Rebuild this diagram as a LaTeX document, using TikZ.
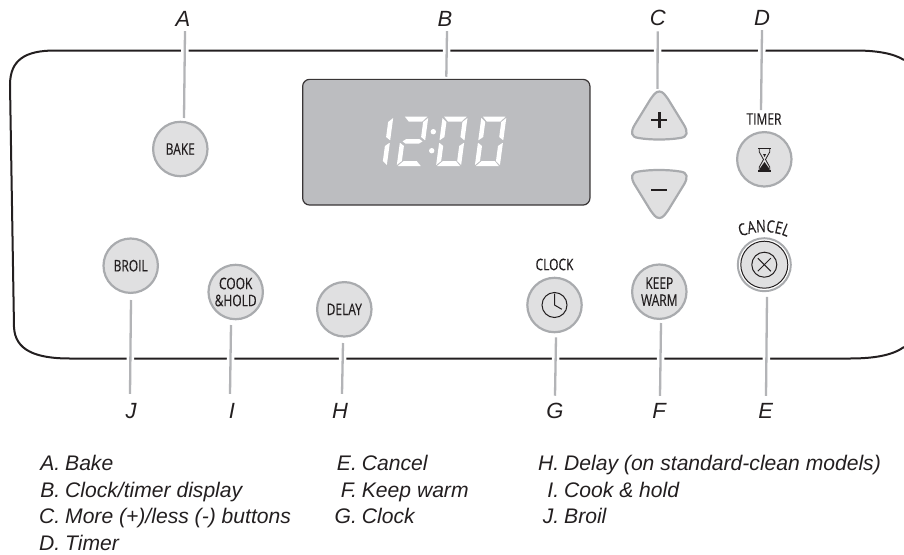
\documentclass[tikz,border=0pt]{standalone}
\usepackage{fontspec}
\setmainfont{Liberation Sans}
\newfontfamily\btnfont[FakeStretch=0.75,FakeBold=0.25]{Open Sans}
\usetikzlibrary{decorations.text}
\definecolor{ink}{HTML}{231F20}
\definecolor{btnfill}{HTML}{E0E0E1}
\definecolor{btnring}{HTML}{A9ABAE}
\definecolor{leadgray}{HTML}{B3B4B7}
\definecolor{dispfill}{HTML}{BCBDC0}
\newcommand{\segA}{(1.5,49.3) -- (24,49.3) -- (19.5,44.5) -- (6,44.5) -- cycle}
\newcommand{\segB}{(25,48) -- (20.5,44) -- (20.5,29) -- (24.5,26) -- (25,26) -- cycle}
\newcommand{\segC}{(25,23) -- (24.5,23) -- (20.5,20) -- (20.5,5) -- (25,1) -- cycle}
\newcommand{\segD}{(1,0) -- (24,0) -- (19.5,4.8) -- (6,4.8) -- cycle}
\newcommand{\segE}{(0,23) -- (0.5,23) -- (4.5,20) -- (4.5,5) -- (0,1) -- cycle}
\newcommand{\segF}{(0,48) -- (4.5,44) -- (4.5,29) -- (0.5,26) -- (0,26) -- cycle}
\newcommand{\segG}{(2.5,24.6) -- (6,27) -- (19,27) -- (22.5,24.6) -- (19,22.3) -- (6,22.3) -- cycle}
\newcommand{\triPath}{(659.3,91.5) .. controls (663,91.5) and (665,95) .. (668,99) -- (684,125)
  .. controls (688,132) and (688,137) .. (680,138) .. controls (668,140) and (650,140) .. (638.6,138)
  .. controls (630.6,137) and (630.6,132) .. (634.6,125) -- (650.6,99) .. controls (653.6,95) and (655.6,91.5) .. (659.3,91.5) -- cycle}
\newcommand{\leg}[2]{\llap{#1\hspace{5pt}}#2}
\tikzset{
  panel/.style={draw=ink,line width=2pt},
  leader/.style={draw=leadgray,line width=2.3pt,preaction={draw=white,line width=7.5pt}},
  btn/.style={circle,draw=btnring,fill=btnfill,line width=2.2pt,minimum size=54.4pt,inner sep=0pt,
     font=\btnfont\fontsize{16}{17}\selectfont,text=ink,align=center},
  captxt/.style={inner sep=0pt,font=\btnfont\fontsize{16}{17}\selectfont,text=ink},
  letter/.style={inner sep=0pt,anchor=base,text=ink,font=\fontsize{22}{24}\selectfont\itshape},
  legendtxt/.style={inner sep=0pt,anchor=base west,text=ink,font=\fontsize{21.1}{24}\selectfont\itshape},
  tri/.style={draw=btnring,fill=btnfill,line width=2.2pt,line join=round},
  icon/.style={draw=ink,line width=1pt},
  seg/.style={fill=white,draw=none},
}
\begin{document}
\begin{tikzpicture}[x=1pt,y=-1pt]
\useasboundingbox (0,0) rectangle (904,554);
% panel
\draw[panel] (904,60) .. controls (893,53) and (875,50.5) .. (855,50.5) -- (55,50.5)
  .. controls (25,50.5) and (10,60) .. (10,85) -- (14,327)
  .. controls (15,350) and (35,358.5) .. (70,358.5) -- (850,358.5)
  .. controls (875,358.5) and (893,355) .. (904,347);
% display
\node[draw=ink!90,fill=dispfill,line width=1.2pt,rounded corners=7pt,minimum width=287.3pt,minimum height=125.7pt,inner sep=0pt] (display) at (446.3,142.2) {};
\foreach \ox/\segs in {361.7/{\segB,\segC},396.7/{\segA,\segB,\segG,\segE,\segD},436/{\segA,\segB,\segC,\segD,\segE,\segF},474.8/{\segA,\segB,\segC,\segD,\segE,\segF}}{
  \begin{scope}[shift={(\ox,166)},x=1pt,y=1pt,xslant=0.135]
    \foreach \s in \segs { \fill[seg] \s; }
  \end{scope}
}
\fill[white] (433.3,131.7) circle (2.7pt) (431.7,150.7) circle (2.7pt);
% buttons
\node[btn] (bake) at (180.3,149) {BAKE};
\node[btn] (broil) at (130.7,265.7) {BROIL};
\node[btn] (cook) at (235.7,292) {COOK\\[0pt]\&HOLD};
\node[btn] (delay) at (344.3,309.3) {DELAY};
\node[btn] (clockb) at (554.5,305) {};
\node[btn] (keep) at (659.3,291.7) {KEEP\\[0pt]WARM};
\node[btn,minimum size=53pt,fill=white,line width=2pt] (cancel) at (764.3,264.7) {};
\node[circle,draw=ink,fill=btnfill,line width=1pt,minimum size=47pt,inner sep=0pt] (cancelin) at (cancel) {};
\node[btn] (timer) at (764.3,159.3) {};
% plus / minus
\node[inner sep=0pt,minimum size=0pt] (more) at (659.3,91.5) {};
\node[inner sep=0pt,minimum size=0pt] (less) at (659.3,218) {};
\draw[tri] \triPath;
\begin{scope}[shift={(0,309.5)},yscale=-1]
\draw[tri] \triPath;
\end{scope}
\draw[ink,line width=2.6pt] (651.3,120) -- (667.3,120) (659.3,112) -- (659.3,128);
\draw[ink,line width=2.6pt] (651.3,190) -- (667.3,190);
% icons
\draw[icon] (clockb.center) circle (12.5pt);
\draw[icon] ([yshift=11.5pt]clockb.center) -- (clockb.center) -- ([xshift=7.3pt,yshift=-4.3pt]clockb.center);
\draw[icon] (cancelin.center) circle (12.5pt);
\draw[icon] ([xshift=-6.5pt,yshift=-6.5pt]cancelin.center) -- ([xshift=6.5pt,yshift=6.5pt]cancelin.center)
  ([xshift=-6.5pt,yshift=6.5pt]cancelin.center) -- ([xshift=6.5pt,yshift=-6.5pt]cancelin.center);
\draw[ink,line width=1.1pt] (758,148.5) -- (771,148.5) (758,171) -- (771,171);
\draw[ink,line width=0.8pt] (759.3,148.5) -- (759.3,152) -- (763.5,159.5) -- (759.3,167) -- (759.3,171)
   (769.7,148.5) -- (769.7,152) -- (765.5,159.5) -- (769.7,167) -- (769.7,171);
\fill[ink] (764.5,162) -- (768.8,168) -- (768.8,171) -- (760.2,171) -- (760.2,168) -- cycle;
\fill[ink] (763,154) -- (766,154) -- (764.5,157) -- cycle;
% captions
\node[captxt] (timertxt) at (764,119) {TIMER};
\node[captxt] (clocktxt) at (554.5,264.5) {CLOCK};
\path[decorate,decoration={text along path,text={|\btnfont\fontsize{17}{17}\selectfont\color{ink}|CANCEL},text align=center}]
  (736,240) .. controls (750,229.5) and (778,229.5) .. (792,240);
% letters
\node[letter] (lblA) at (183,27) {A};
\node[letter] (lblB) at (445,27) {B};
\node[letter] (lblC) at (657.7,25) {C};
\node[letter] (lblD) at (762,25) {D};
\node[letter] (lblE) at (765.6,418.3) {E};
\node[letter] (lblF) at (659,418.3) {F};
\node[letter] (lblG) at (555,418.3) {G};
\node[letter] (lblH) at (340,418.3) {H};
\node[letter] (lblI) at (232,418.3) {I};
\node[letter] (lblJ) at (131,418.3) {J};
% leaders
\draw[leader] ([xshift=2pt,yshift=-4pt]lblA.south) -- ([xshift=3.7pt,yshift=2.7pt]bake.north);
\draw[leader] ([xshift=2pt,yshift=-4pt]lblB.south) -- ([yshift=2pt]display.north);
\draw[leader] ([yshift=-6pt]lblC.south) -- ([xshift=-1.8pt,yshift=2.5pt]more.north);
\draw[leader] ([yshift=-5pt]lblD.south) -- ([xshift=-3pt,yshift=3pt]timertxt.north);
\draw[leader] ([xshift=2.7pt,yshift=-4.7pt]cancel.south) -- ([xshift=0.4pt,yshift=7pt]lblE.north);
\draw[leader] ([xshift=1.7pt,yshift=-3pt]keep.south) -- ([xshift=1pt,yshift=7pt]lblF.north);
\draw[leader] ([xshift=1.5pt,yshift=-4pt]clockb.south) -- ([yshift=7pt]lblG.north);
\draw[leader] ([xshift=-1.3pt,yshift=-5.4pt]delay.south) -- ([xshift=2pt,yshift=9pt]lblH.north);
\draw[leader] ([xshift=-4.7pt,yshift=-4.7pt]cook.south) -- ([xshift=-2pt,yshift=9pt]lblI.north);
\draw[leader] ([xshift=0.3pt,yshift=-6pt]broil.south) -- ([xshift=-1pt,yshift=9pt]lblJ.north);
% legend
\node[legendtxt] (l1) at (65,470) {\leg{A.}{Bake}};
\node[legendtxt] (l2) at (65,497.3) {\leg{B.}{Clock/timer display}};
\node[legendtxt] (l3) at (65,523.3) {\leg{C.}{More (+)/less (-) buttons}};
\node[legendtxt] (l4) at (65,550) {\leg{D.}{Timer}};
\node[legendtxt] (l5) at (361.7,470) {\leg{E.}{Cancel}};
\node[legendtxt] (l6) at (361.7,497.3) {\leg{F.}{Keep warm}};
\node[legendtxt] (l7) at (361.7,523.3) {\leg{G.}{Clock}};
\node[legendtxt] (l8) at (564,470) {\leg{H.}{Delay (on standard-clean models)}};
\node[legendtxt] (l9) at (564,497.3) {\leg{I.}{Cook \& hold}};
\node[legendtxt] (l10) at (564,523.3) {\leg{J.}{Broil}};
\end{tikzpicture}
\end{document}
